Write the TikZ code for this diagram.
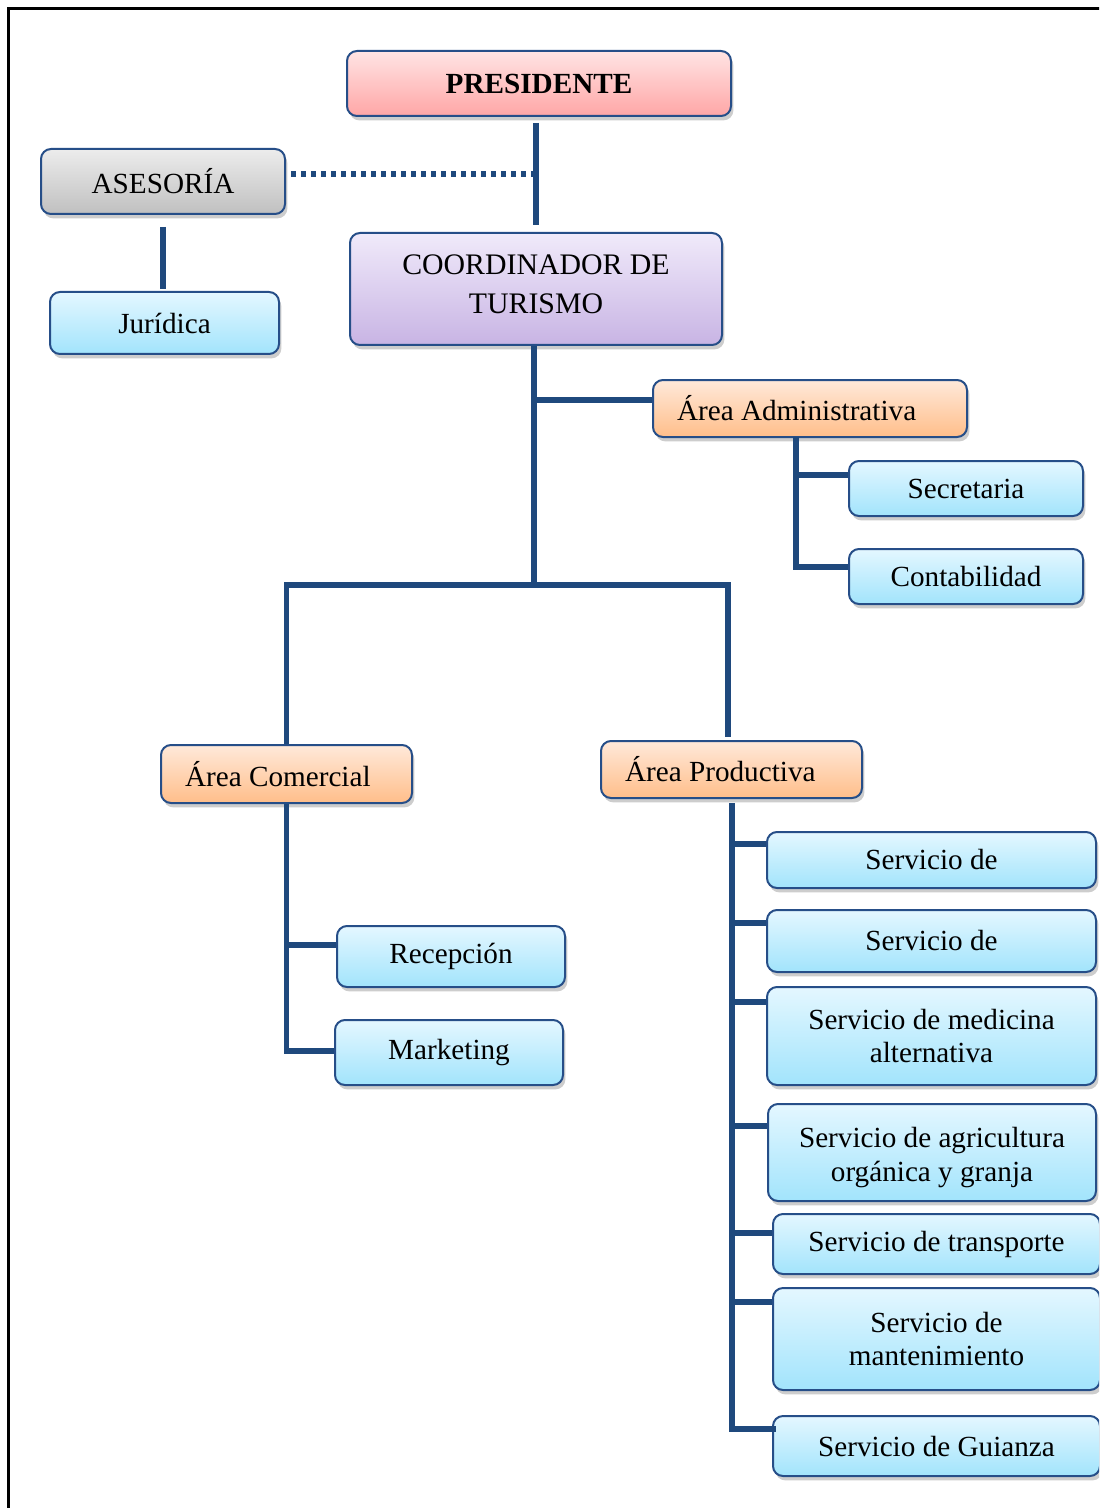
\documentclass[tikz,border=0pt]{standalone}
\usepackage{fontspec}
\setmainfont{Liberation Serif}
\usetikzlibrary{shadows}
\definecolor{linec}{RGB}{31,73,125}
\definecolor{bordc}{RGB}{38,78,136}
\definecolor{bluetop}{RGB}{228,247,255}
\definecolor{bluebot}{RGB}{162,228,252}
\definecolor{redtop}{RGB}{255,228,228}
\definecolor{redbot}{RGB}{255,166,166}
\definecolor{graytop}{RGB}{236,236,236}
\definecolor{graybot}{RGB}{192,192,192}
\definecolor{purtop}{RGB}{240,234,250}
\definecolor{purbot}{RGB}{200,180,228}
\definecolor{ortop}{RGB}{255,233,218}
\definecolor{orbot}{RGB}{255,190,138}
\newcommand\fs{\fontsize{14.6}{16.8}\selectfont}
\newcommand\leftbox[2]{\makebox[#1][l]{#2}}
\tikzset{
  box/.style={draw=bordc, line width=1pt, rounded corners=5pt, align=center,
    inner sep=2pt, font=\fs,
    drop shadow={shadow xshift=1.2pt, shadow yshift=-2.2pt, opacity=0.28, fill=black!70}},
  bluebox/.style={box, top color=bluetop, bottom color=bluebot},
  redbox/.style={box, top color=redtop, bottom color=redbot},
  graybox/.style={box, top color=graytop, bottom color=graybot},
  purbox/.style={box, top color=purtop, bottom color=purbot},
  orbox/.style={box, top color=ortop, bottom color=orbot, inner xsep=12pt},
  conn/.style={draw=linec, line width=2.75pt},
  dotconn/.style={draw=linec, line width=2.6pt, dash pattern=on 2.6pt off 2.4pt},
}
\begin{document}
\begin{tikzpicture}[x=0.5pt,y=-0.5pt]
\useasboundingbox (0,0) rectangle (1099,1508);
\clip (0,0) rectangle (1099,1508);
\fill[white] (0,0) rectangle (1099,1508);
\draw[black, line width=1.5pt] (8.5,8.5) rectangle (1200,1600);

% nodes
\node[redbox, minimum width=192pt, minimum height=32.5pt, font=\fs\bfseries] (pres) at (539,83.5) {PRESIDENTE};
\node[graybox, minimum width=122pt, minimum height=32.5pt] (ases) at (163,181.5) {ASESORÍA};
\node[bluebox, minimum width=114.5pt, minimum height=31pt] (jur) at (164.5,323) {Jurídica};
\node[purbox, minimum width=186pt, minimum height=56pt, font=\fontsize{14.9}{19.5}\selectfont] (coord) at (536,289) {COORDINADOR DE\\TURISMO\rule[-5pt]{0pt}{5pt}};
\node[orbox, minimum height=28.5pt] (adm) at (810,408.5) {\leftbox{133pt}{Área Administrativa}};
\node[bluebox, minimum width=117pt, minimum height=27.5pt] (sec) at (966,488.5) {Secretaria};
\node[bluebox, minimum width=117pt, minimum height=27.5pt] (cont) at (966,576.5) {Contabilidad};
\node[orbox, minimum height=29pt] (com) at (286.5,774) {\leftbox{101.5pt}{Área Comercial}};
\node[orbox, minimum height=28.5pt] (prod) at (731.5,769.5) {\leftbox{106.5pt}{Área Productiva}};
\node[bluebox, minimum width=114pt, minimum height=30.5pt] (rec) at (451,956.5) {Recepción};
\node[bluebox, minimum width=114pt, minimum height=32.5pt] (mkt) at (449,1052.5) {Marketing};
\node[bluebox, minimum width=164.5pt, minimum height=28pt] (s1) at (931.5,860) {Servicio de};
\node[bluebox, minimum width=164.5pt, minimum height=31pt] (s2) at (931.5,941) {Servicio de};
\node[bluebox, minimum width=164.5pt, minimum height=49pt] (s3) at (931.5,1036) {Servicio de medicina\\alternativa};
\node[bluebox, minimum width=164pt, minimum height=48.5pt] (s4) at (932,1152.5) {\rule{0pt}{15.3pt}Servicio de agricultura\\orgánica y granja};
\node[bluebox, minimum width=163.5pt, minimum height=30pt] (s5) at (936.5,1244) {Servicio de transporte};
\node[bluebox, minimum width=163.5pt, minimum height=51pt] (s6) at (936.5,1339) {Servicio de\\mantenimiento};
\node[bluebox, minimum width=163.5pt, minimum height=30pt] (s7) at (936.5,1446) {Servicio de Guianza};

% junctions
\coordinate (top) at (536,174);
\coordinate (hub) at (534,585);
\coordinate (a1) at (796,437);
\coordinate (p1) at (732,803);

% connectors
\draw[conn] ([yshift=-3pt]pres.south -| top) -- ([yshift=3.5pt]coord.north -| top);
\draw[dotconn] ([xshift=2.5pt]ases.east |- top) -- (top);
\draw[conn] ([yshift=-6pt]ases.south) -- ([yshift=1pt]jur.north -| ases.south);
\draw[conn] (hub |- coord.south) -- (hub);
\draw[conn] ([yshift=4.25pt]adm.west -| hub) -- ([yshift=4.25pt]adm.west);
\draw[conn] (com.north) -- (com.north |- hub) -- ([xshift=-1.75pt]prod.north |- hub) -- ([xshift=-1.75pt,yshift=1.5pt]prod.north);
\draw[conn] (a1) |- ([yshift=6.75pt]sec.west);
\draw[conn] (a1) |- ([yshift=4.75pt]cont.west);
\draw[conn] (com.south) |- ([yshift=5.75pt]rec.west);
\draw[conn] (com.south) |- ([yshift=0.75pt]mkt.west);
\draw[conn] (p1) |- ([yshift=-6.5pt]s1.north west);
\draw[conn] (p1) |- ([yshift=-7pt]s2.north west);
\draw[conn] (p1) |- ([yshift=-8pt]s3.north west);
\draw[conn] (p1) |- ([yshift=-11.5pt]s4.north west);
\draw[conn] (p1) |- ([yshift=-10pt]s5.north west);
\draw[conn] (p1) |- ([yshift=-7.5pt]s6.north west);
\draw[conn] (p1) |- ([yshift=-7pt,xshift=2pt]s7.north west);
\end{tikzpicture}
\end{document}
